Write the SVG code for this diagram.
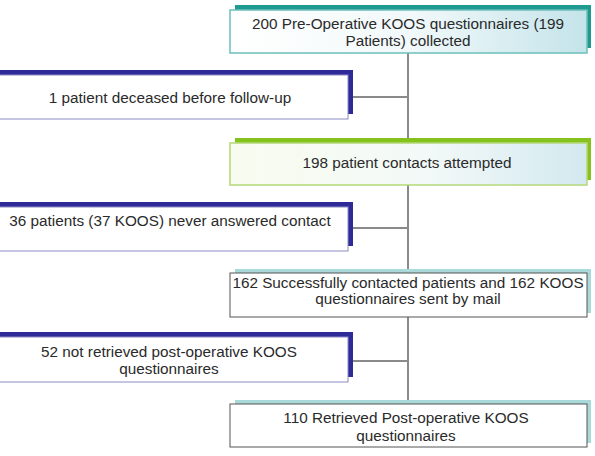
<svg xmlns="http://www.w3.org/2000/svg" width="595" height="456" viewBox="0 0 595 456">
<style>
text{font-family:"Liberation Sans",Arial,sans-serif;font-size:15.3px;fill:#2a2a2a;text-anchor:middle}
.conn{stroke:#8a8a8a;stroke-width:2;fill:none}
.lbox{fill:#fff;stroke:#8e8cc4;stroke-width:1}
.lsh{fill:#2e2b98}
.rsh{fill:#a9d9d9}
.rbox{fill:#fff;stroke:#555;stroke-width:1}
</style>
<defs>
<linearGradient id="g1" x1="0" y1="0" x2="1" y2="0">
<stop offset="0" stop-color="#ffffff"/><stop offset="0.5" stop-color="#f2f9fa"/><stop offset="1" stop-color="#c4e4ea"/>
</linearGradient>
<linearGradient id="g2" x1="0" y1="0" x2="1" y2="0">
<stop offset="0" stop-color="#f8fcef"/><stop offset="0.55" stop-color="#f3f9f8"/><stop offset="1" stop-color="#d3e9ef"/>
</linearGradient>
</defs>
<g id="connectors">
<line class="conn" x1="408" y1="53" x2="408" y2="404"/>
<line class="conn" x1="348" y1="97" x2="408" y2="97"/>
<line class="conn" x1="348" y1="228" x2="408" y2="228"/>
<line class="conn" x1="348" y1="361" x2="408" y2="361"/>
</g>
<g id="n1">
<rect x="235" y="5" width="356" height="43" fill="#1e9a90"/>
<rect x="230" y="10" width="357" height="43" fill="url(#g1)" stroke="#6cbfba" stroke-width="1.5"/>
<text x="408" y="29">200 Pre-Operative KOOS questionnaires (199</text>
<text x="408" y="46">Patients) collected</text>
</g>
<g id="n2">
<rect class="lsh" x="-10" y="70" width="363" height="44"/>
<rect class="lbox" x="-15" y="75" width="363" height="44"/>
<text x="170" y="103">1 patient deceased before follow-up</text>
</g>
<g id="n3">
<rect x="235" y="138" width="356" height="42" fill="#86c21e"/>
<rect x="230" y="143" width="357" height="42" fill="url(#g2)" stroke="#b4d878" stroke-width="1.5"/>
<text x="407" y="168">198 patient contacts attempted</text>
</g>
<g id="n4">
<rect class="lsh" x="-10" y="202" width="363" height="44"/>
<rect class="lbox" x="-15" y="207" width="363" height="44"/>
<text x="170" y="226">36 patients (37 KOOS) never answered contact</text>
</g>
<g id="n5">
<rect class="rsh" x="235" y="269" width="356" height="44"/>
<rect class="rbox" x="230" y="273" width="357" height="44"/>
<text x="408" y="288">162 Successfully contacted patients and 162 KOOS</text>
<text x="408" y="304">questionnaires sent by mail</text>
</g>
<g id="n6">
<rect class="lsh" x="-10" y="332" width="363" height="45"/>
<rect class="lbox" x="-15" y="337" width="363" height="45"/>
<text x="169" y="357">52 not retrieved post-operative KOOS</text>
<text x="169" y="374">questionnaires</text>
</g>
<g id="n7">
<rect class="rsh" x="235" y="400" width="356" height="43"/>
<rect class="rbox" x="230" y="404" width="357" height="43"/>
<text x="406" y="423">110 Retrieved Post-operative KOOS</text>
<text x="406" y="441">questionnaires</text>
</g>
</svg>
